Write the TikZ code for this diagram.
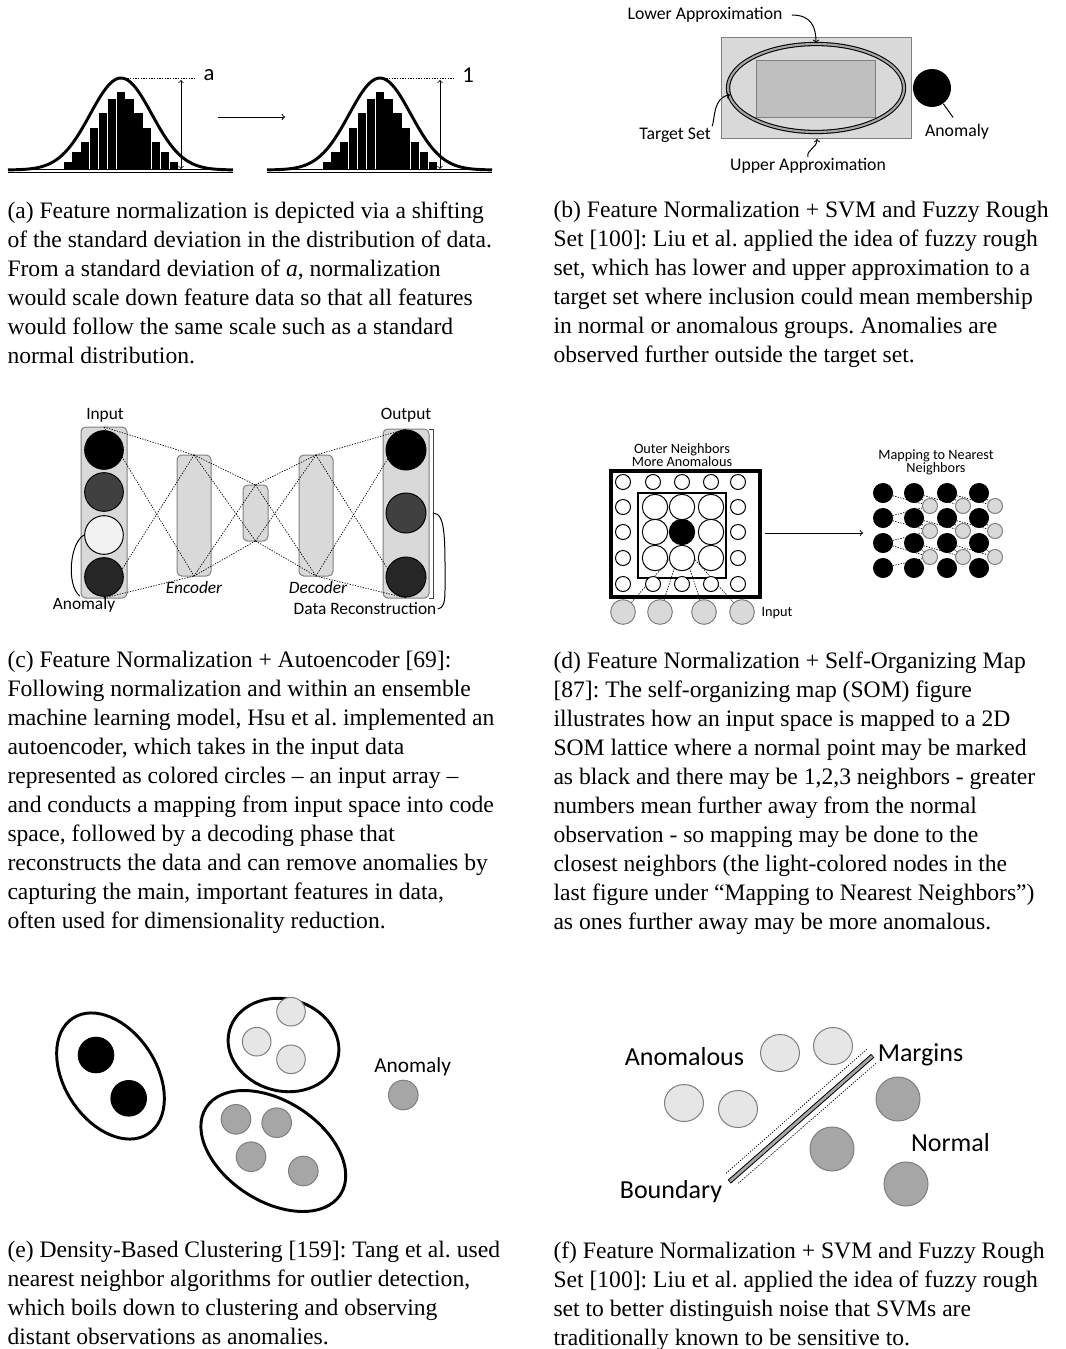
\documentclass[tikz,border=0pt]{standalone}
\usepackage{fontspec}
\setmainfont{Liberation Serif}
\newfontfamily\lblfont{Carlito}
\frenchspacing

\definecolor{lightfill}{RGB}{217,217,217}
\definecolor{midfill}{RGB}{191,191,191}
\definecolor{palegray}{RGB}{230,230,230}
\definecolor{midgray}{RGB}{166,166,166}
\definecolor{edgegray}{RGB}{127,127,127}
\definecolor{darkcirc}{RGB}{64,64,64}
\definecolor{darkercirc}{RGB}{38,38,38}
\definecolor{whitecirc}{RGB}{242,242,242}

\tikzset{every picture/.style={line width=0.75pt},
  caption/.style={anchor=north west, inner sep=0pt, align=left, font=\fontsize{17.7}{21.75}\selectfont},
  lbl/.style={inner sep=0.75pt, font=\lblfont\fontsize{#1}{#1}\selectfont},
  lbl/.default=13,
  dotline/.style={line width=0.5pt, dash pattern=on 1pt off 1pt},
  layerbox/.style={fill=lightfill, draw=edgegray, rounded corners=3.5},
  aedot/.style={circle, draw=black, inner sep=0pt, minimum size=29pt},
  somdot/.style={circle, draw=black, fill=white, inner sep=0pt, minimum size=#1},
  somdot/.default=11pt
}

\begin{document}
\begin{tikzpicture}[x=0.75pt,y=0.75pt,yscale=-1,xscale=1]
\useasboundingbox (0,0) rectangle (1066,1349);

%Bell curves (a)
\foreach \dx/\lab in {0/a,259/1} {
\begin{scope}[shift={(\dx,0)}]
\draw [line width=1.1pt, double distance=0.9pt] (8,171) -- (233,171) ;
\foreach \h [count=\i from 0] in {162,152,142,128,113,99,92,99,113,128,142,152,162}
  \fill ({63.5+8.85*\i},\h) rectangle ({63.5+8.85*\i+8.2},169.5) ;
\draw [line width=2.2pt] plot [domain=-113:112, samples=80, smooth] ({121+\x},{170-92*exp(-(\x*\x)/1900)}) ;
\draw [dotline] (122,78) -- (196,78) ;
\draw [<->, line width=0.6pt] (181,80) -- (181,169) ;
\node [lbl=17] (sd\dx) at (209,75) {\lab};
\end{scope}
}
%Straight Lines
\coordinate (shA) at (218,117) ;
\coordinate (shB) at (285,117) ;
\draw [->] (shA) -- (shB) ;

%Fuzzy rough set (b)
\draw [fill=lightfill, draw=edgegray] (721,37) rectangle (911,138) ;
\draw [fill=midfill, draw=edgegray] (756,60) rectangle (875,117) ;
\draw [line width=0.8pt, double=midgray, double distance=1.6pt] (816,88) ellipse [x radius=88, y radius=44] ;
\node [circle, fill=black, inner sep=0pt, minimum size=28.5pt] (anomdot) at (932,88) {};
% Text Node
\node [lbl=13.3] (lowap) at (705,15) {Lower Approximation};
\node [lbl=13.3] (tgt) at (675,135) {Target Set};
\node [lbl=13.3] (upap) at (808,166) {Upper Approximation};
\node [lbl=13.3] (anomb) at (957,132) {Anomaly};
%Curve Lines
\draw [->, shorten <=6pt] (lowap.east) .. controls (812,15) and (816,28) .. (816,43) ;
\draw [->] (tgt.north east) .. controls (715,119) and (713,97) .. (730,95) ;
\draw [->] (upap.north) .. controls (806,150) and (817,148) .. (817,139) ;
\draw [shorten >=5pt] (anomdot) -- (anomb.north) ;

%Autoencoder (c)
\draw [layerbox] (81,427) rectangle (127,598) ;
\draw [layerbox] (383,429) rectangle (429,598) ;
\draw [layerbox] (177,455) rectangle (211,576) ;
\draw [layerbox] (243,485) rectangle (268,541) ;
\draw [layerbox] (299,455) rectangle (333,576) ;
\coordinate (inT) at (104,427) ; \coordinate (inB) at (104,598) ;
\coordinate (encT) at (194,455) ; \coordinate (encB) at (194,576) ;
\coordinate (midT) at (255.5,485) ; \coordinate (midB) at (255.5,541) ;
\coordinate (decT) at (316,455) ; \coordinate (decB) at (316,576) ;
\coordinate (outT) at (406,429) ; \coordinate (outB) at (406,598) ;
\foreach \a/\b in {in/enc,enc/mid,mid/dec,dec/out} {
  \draw [dotline] (\a T) -- (\b T) ;
  \draw [dotline] (\a B) -- (\b B) ;
  \draw [dotline] (\a T) -- (\b B) ;
  \draw [dotline] (\a B) -- (\b T) ;
}
\node [aedot, fill=black] (inc1) at (104,450) {};
\node [aedot, fill=darkcirc] (inc2) at (104,492) {};
\node [aedot, fill=whitecirc] (inc3) at (104,535) {};
\node [aedot, fill=darkercirc] (inc4) at (104,577) {};
\node [aedot, fill=black, minimum size=30pt] (outc1) at (406,450) {};
\node [aedot, fill=darkcirc, minimum size=30pt] (outc2) at (406,513) {};
\node [aedot, fill=darkercirc, minimum size=30pt] (outc3) at (406,577) {};
\draw [darkgray] (429,429) -- (433,429) -- (433,598) -- (429,598) ;
\coordinate (brmid) at (433,513) ;
% Text Node
\node [lbl] (inlab) at (105,415) {Input};
\node [lbl] (outlab) at (406,415) {Output};
\node [lbl] (enclab) at (194,588) {\itshape Encoder};
\node [lbl] (declab) at (318,588) {\itshape Decoder};
\node [lbl] (anomc) at (84,605) {Anomaly};
\node [lbl] (datarec) at (365,609) {Data Reconstruction};
\draw (inc3.west) .. controls (70,542) and (66,585) .. (anomc.115) ;
\draw (brmid) .. controls (446,513) and (445,540) .. (445,590) .. controls (445,604) and (443,608) .. (datarec.east) ;

%Self-organizing map (d)
\node [somdot=18.5pt, fill=lightfill, draw=edgegray] (sin1) at (623,612) {};
\node [somdot=18.5pt, fill=lightfill, draw=edgegray] (sin2) at (660,612) {};
\node [somdot=18.5pt, fill=lightfill, draw=edgegray] (sin3) at (704,612) {};
\node [somdot=18.5pt, fill=lightfill, draw=edgegray] (sin4) at (742,612) {};
\node [somdot=19pt, fill=black] (som0) at (682,532) {};
\foreach \i in {1,...,4} \draw [dotline] (sin\i) -- (som0.south) ;
\draw [line width=2.3pt] (611,471) rectangle (760,597) ;
\draw [line width=2pt] (638,493) rectangle (726,578) ;
\foreach \x in {623,653,682,711,738} {
  \draw [fill=white] (\x,482) circle (7.5) ;
  \draw [fill=white] (\x,584) circle (7.5) ;
}
\foreach \y in {507,532,558} {
  \draw [fill=white] (623,\y) circle (7.5) ;
  \draw [fill=white] (738,\y) circle (7.5) ;
}
\foreach \x in {655,682,711} \foreach \y in {507,532,558} {
  \ifnum\x=682 \ifnum\y=532 \else \draw [fill=white] (\x,\y) circle (12.7) ; \fi
  \else \draw [fill=white] (\x,\y) circle (12.7) ; \fi
}
\node [lbl=10.7, align=center, font=\lblfont\fontsize{10.7}{9}\selectfont] (outer) at (682,455) {Outer Neighbors\\More Anomalous};
\node [lbl=10.7] (somin) at (777,613) {Input};
\coordinate (mapA) at (765,533) ;
\coordinate (mapB) at (863,533) ;
\draw [->] (mapA) -- (mapB) ;
\node [lbl=10.7, align=center, font=\lblfont\fontsize{10.7}{9.5}\selectfont] (maplab) at (936,462) {Mapping to Nearest\\Neighbors};
\foreach \r/\y in {1/493,2/518,3/543,4/568} \foreach \c/\x in {1/883,2/914,3/947,4/979}
  \node [somdot=14.25pt, fill=black] (b\r\c) at (\x,\y) {};
\foreach \r/\y in {1/506,2/531,3/557} \foreach \c/\x in {1/930,2/963,3/995}
  \node [somdot=11.25pt, fill=lightfill, draw=edgegray] (g\r\c) at (\x,\y) {};
\foreach \r in {1,2,3} {
  \pgfmathtruncatemacro\rn{\r+1}
  \draw [dotline] (b\rn1) -- (g\r1) ;
  \foreach \c in {1,2,3} {
    \pgfmathtruncatemacro\cn{\c+1}
    \draw [dotline] (b\r\c) -- (g\r\c) ;
    \draw [dotline] (b\r\cn) -- (g\r\c) ;
  }
}

%Density clustering (e)
\draw [line width=2.2pt, rotate around={57:(110.5,1076)}] (110.5,1076) ellipse [x radius=69, y radius=46] ;
\draw [line width=2.2pt, rotate around={15:(283.5,1045)}] (283.5,1045) ellipse [x radius=56, y radius=46] ;
\draw [line width=2.2pt, rotate around={33:(273.3,1151)}] (273.3,1151) ellipse [x radius=80, y radius=50] ;
\fill (96,1055) circle (18.3) ;
\fill (128.7,1098.3) circle (18.3) ;
\foreach \p in {(291,1011.7),(256.7,1041.7),(291,1059.3)}
  \draw [fill=palegray, draw=edgegray] \p circle (14.3) ;
\foreach \p in {(236,1119.3),(276.7,1122.7),(251,1156.7),(303.3,1171),(403.3,1095)}
  \draw [fill=midgray, draw=edgegray] \p circle (14.8) ;
\node [lbl=16] (anome) at (412.7,1066.7) {Anomaly};

%SVM boundary (f)
\foreach \p in {(780,1053),(833,1046),(684,1103),(738,1109)}
  \draw [fill=palegray, draw=edgegray] \p ellipse [x radius=19.5, y radius=18.5] ;
\foreach \p in {(898,1099),(832,1149),(906,1184)}
  \draw [fill=midgray, draw=edgegray] \p circle (22) ;
\coordinate (bndA) at (729.3,1181.7) ;
\coordinate (bndB) at (872.7,1055.7) ;
\draw [line width=3.6pt] (bndA) -- (bndB) ;
\draw [line width=2.1pt, midgray, shorten <=0.6pt, shorten >=0.6pt] (bndA) -- (bndB) ;
\draw [dotline] (726,1173.3) -- (866.7,1049.3) ;
\draw [dotline] (738.3,1183.3) -- (876.7,1062.7) ;
\node [lbl=19.5] (anomf) at (684.5,1056.7) {Anomalous};
\node [lbl=19.5] (marg) at (920.5,1055) {Margins};
\node [lbl=19.5] (norm) at (950.5,1143) {Normal};
\node [lbl=19.5] (bndlab) at (671,1191.7) {Boundary};

%Captions
\node [caption] (capa) at (7,201) {(a) Feature normalization is depicted via a shifting\\of the standard deviation in the distribution of data.\\From a standard deviation of \textit{a}, normalization\\would scale down feature data so that all features\\would follow the same scale such as a standard\\normal distribution.};
\node [caption] (capb) at (553,201) {(b) Feature Normalization + SVM and Fuzzy Rough\\Set [100]: Liu et al. applied the idea of fuzzy rough\\set, which has lower and upper approximation to a\\target set where inclusion could mean membership\\in normal or anomalous groups. Anomalies are\\observed further outside the target set.};
\node [caption] (capc) at (7,651) {(c) Feature Normalization + Autoencoder [69]:\\Following normalization and within an ensemble\\machine learning model, Hsu et al. implemented an\\autoencoder, which takes in the input data\\represented as colored circles -- an input array --\\and conducts a mapping from input space into code\\space, followed by a decoding phase that\\reconstructs the data and can remove anomalies by\\capturing the main, important features in data,\\often used for dimensionality reduction.};
\node [caption] (capd) at (553,651) {(d) Feature Normalization + Self-Organizing Map\\{[87]}: The self-organizing map (SOM) figure\\illustrates how an input space is mapped to a 2D\\SOM lattice where a normal point may be marked\\as black and there may be 1,2,3 neighbors - greater\\numbers mean further away from the normal\\observation - so mapping may be done to the\\closest neighbors (the light-colored nodes in the\\last figure under “Mapping to Nearest Neighbors”)\\as ones further away may be more anomalous.};
\node [caption] (cape) at (7,1241) {(e) Density-Based Clustering [159]: Tang et al. used\\nearest neighbor algorithms for outlier detection,\\which boils down to clustering and observing\\distant observations as anomalies.};
\node [caption] (capf) at (553,1241) {(f) Feature Normalization + SVM and Fuzzy Rough\\Set [100]: Liu et al. applied the idea of fuzzy rough\\set to better distinguish noise that SVMs are\\traditionally known to be sensitive to.};

\end{tikzpicture}
\end{document}
